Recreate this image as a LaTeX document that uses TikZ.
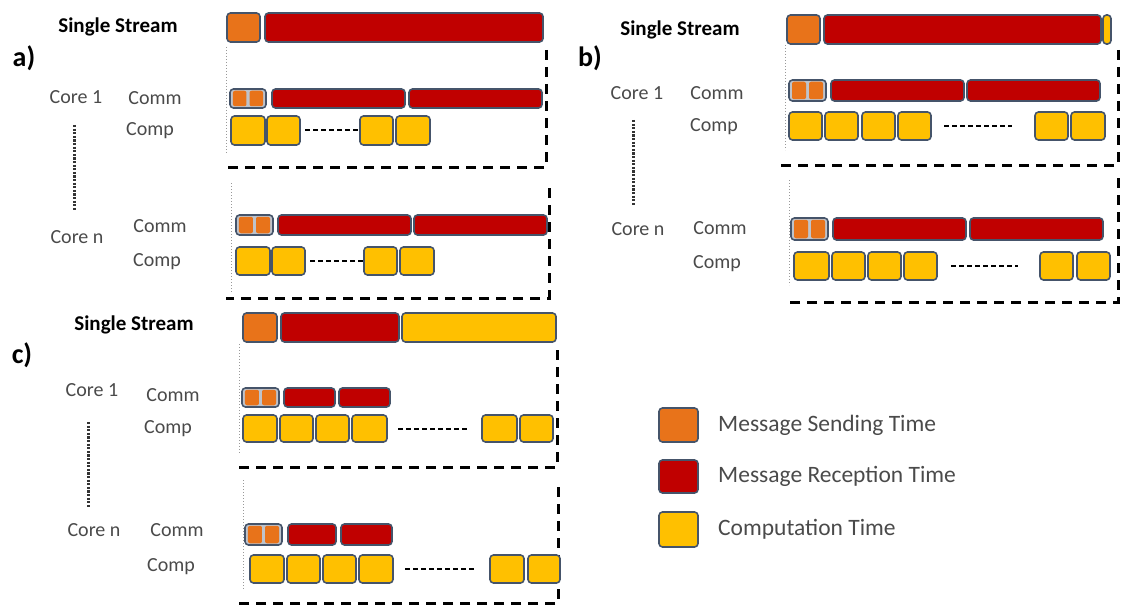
\documentclass[tikz,border=0pt]{standalone}
\usepackage{fontspec}
\setmainfont{Carlito}
\usepackage{tikz}
\usetikzlibrary{positioning}
\definecolor{sendc}{HTML}{E8731A}
\definecolor{recvc}{HTML}{C00000}
\definecolor{compc}{HTML}{FFC000}
\definecolor{rim}{HTML}{45546A}
\definecolor{ink2}{HTML}{4A4A4A}
% x1,y1,x2,y2,colour,name
\newcommand{\tblock}[6]{%
  \node[seg, fill=#5, minimum width={#3-#1}, minimum height={#4-#2}] (#6) at ({(#1+#3)/2},{(#2+#4)/2}) {};}
% x1,y1,x2,y2,name
\newcommand{\sendpair}[5]{%
  \tblock{#1}{#2}{#3}{#4}{rim!35}{#5}
  \node[pip, minimum width={(#3-#1)/2-4.5}, minimum height={#4-#2-3.5}] (#5a) at ({#1+(#3-#1)*0.27},{(#2+#4)/2}) {};
  \node[pip, minimum width={(#3-#1)/2-4.5}, minimum height={#4-#2-3.5}] (#5b) at ({#1+(#3-#1)*0.73},{(#2+#4)/2}) {};}

\begin{document}
\begin{tikzpicture}[x=1pt, y=-1pt,
  font=\fontsize{20}{24}\selectfont,
  seg/.style={draw=rim, line width=1.6pt, rounded corners=3.5pt, inner sep=0pt, outer sep=0pt},
  pip/.style={fill=sendc, rounded corners=2pt, inner sep=0pt, outer sep=0pt},
  lab/.style={text=ink2, inner sep=0pt},
  head/.style={font=\fontsize{21}{24}\selectfont\bfseries, inner sep=0pt},
  tag/.style={font=\fontsize{28}{30}\selectfont\bfseries, inner sep=0pt},
  leg/.style={text=ink2, anchor=west, inner sep=0pt, font=\fontsize{23.5}{26}\selectfont},
  frame/.style={line width=3pt, dash pattern=on 10pt off 7pt},
  gap/.style={line width=2pt, dash pattern=on 5pt off 3pt},
  tick/.style={draw=gray!80, line width=0.8pt, dash pattern=on 1pt off 2pt},
  ellip/.style={draw=ink2!70!black, line width=3pt, dash pattern=on 2.2pt off 1.4pt}]
\useasboundingbox (0,0) rectangle (1121,607);

% ---- a)
\node[head] (aTitle) at (118,27) {Single Stream};
\node[tag] (aTag) at (24,58) {a)};
\tblock{227}{13}{260}{42}{sendc}{aSS1}
\tblock{265}{13}{543}{42}{recvc}{aSS2}
\coordinate (aL1) at (226,47); \coordinate (aL2) at (226,153);
\draw[tick] (aL1) -- (aL2);
\coordinate (aF1) at (546,50); \coordinate (aF2) at (546,167); \coordinate (aF3) at (222,167);
\draw[frame] (aF1) -- (aF2) -- (aF3);
\node[lab] (aCore1) at (76,97) {Core 1};
\node[lab] (aComm1) at (155,98) {Comm};
\node[lab] (aComp1) at (150,131) {Comp};
\sendpair{230}{89}{266}{108}{aS1}
\tblock{272}{89}{405}{108}{recvc}{aR11}
\tblock{409}{89}{542}{108}{recvc}{aR12}
\tblock{231}{116}{265}{145}{compc}{aC11}
\tblock{267}{116}{300}{145}{compc}{aC12}
\tblock{360}{116}{393}{145}{compc}{aC13}
\tblock{396}{116}{430}{145}{compc}{aC14}
\draw[gap, shorten <=5pt] (aC12) -- (aC13);
\node[lab] (aCoreN) at (77,237) {Core n};
\draw[ellip] (aCore1) ++(-2,28) coordinate (aV1) -- ++(0,85) coordinate (aV2);
\coordinate (aL3) at (231,183); \coordinate (aL4) at (231,293);
\draw[tick] (aL3) -- (aL4);
\coordinate (aG1) at (549,188); \coordinate (aG2) at (549,298); \coordinate (aG3) at (226,298);
\draw[frame] (aG1) -- (aG2) -- (aG3);
\node[lab] (aComm2) at (160,226) {Comm};
\node[lab] (aComp2) at (157,262) {Comp};
\sendpair{236}{215}{273}{235}{aS2}
\tblock{278}{215}{411}{235}{recvc}{aR21}
\tblock{414}{215}{547}{235}{recvc}{aR22}
\tblock{236}{247}{270}{275}{compc}{aC21}
\tblock{272}{247}{305}{275}{compc}{aC22}
\tblock{364}{247}{397}{275}{compc}{aC23}
\tblock{400}{247}{434}{275}{compc}{aC24}
\draw[gap, shorten <=5pt] (aC22) -- (aC23);

% ---- b)
\node[head] (bTitle) at (680,30) {Single Stream};
\node[tag] (bTag) at (590,58) {b)};
\tblock{787}{15}{820}{44}{sendc}{bSS1}
\tblock{824}{15}{1101}{44}{recvc}{bSS2}
\tblock{1103}{15}{1111}{44}{compc}{bSS3}
\coordinate (bL1) at (785,45); \coordinate (bL2) at (785,150);
\draw[tick] (bL1) -- (bL2);
\coordinate (bF1) at (1118,50); \coordinate (bF2) at (1118,165); \coordinate (bF3) at (779,165);
\draw[frame] (bF1) -- (bF2) -- (bF3);
\node[lab] (bCore1) at (637,93) {Core 1};
\node[lab] (bComm1) at (717,93) {Comm};
\node[lab] (bComp1) at (714,127) {Comp};
\sendpair{789}{80}{826}{101}{bS1}
\tblock{831}{80}{964}{101}{recvc}{bR11}
\tblock{967}{80}{1100}{101}{recvc}{bR12}
\tblock{789}{112}{822}{140}{compc}{bC11}
\tblock{825}{112}{858}{140}{compc}{bC12}
\tblock{862}{112}{895}{140}{compc}{bC13}
\tblock{898}{112}{931}{140}{compc}{bC14}
\tblock{1035}{112}{1068}{140}{compc}{bC15}
\tblock{1071}{112}{1105}{140}{compc}{bC16}
\draw[gap, shorten <=13pt, shorten >=23pt] (bC14) -- (bC15);
\node[lab] (bCoreN) at (638,229) {Core n};
\draw[ellip] (bCore1) ++(-4,27) coordinate (bV1) -- ++(0,85) coordinate (bV2);
\coordinate (bL3) at (789,180); \coordinate (bL4) at (789,285);
\draw[tick] (bL3) -- (bL4);
\coordinate (bG1) at (1118,178); \coordinate (bG2) at (1118,302); \coordinate (bG3) at (785,302);
\draw[frame] (bG1) -- (bG2) -- (bG3);
\node[lab] (bComm2) at (720,228) {Comm};
\node[lab] (bComp2) at (717,264) {Comp};
\sendpair{791}{218}{828}{240}{bS2}
\tblock{833}{218}{966}{240}{recvc}{bR21}
\tblock{970}{218}{1103}{240}{recvc}{bR22}
\tblock{794}{252}{829}{280}{compc}{bC21}
\tblock{832}{252}{865}{280}{compc}{bC22}
\tblock{868}{252}{901}{280}{compc}{bC23}
\tblock{904}{252}{937}{280}{compc}{bC24}
\tblock{1040}{252}{1073}{280}{compc}{bC25}
\tblock{1077}{252}{1110}{280}{compc}{bC26}
\draw[gap, shorten <=14pt, shorten >=22pt] (bC24) -- (bC25);

% ---- c)
\node[head] (cTitle) at (134,325) {Single Stream};
\node[tag] (cTag) at (22,355) {c)};
\tblock{243}{313}{277}{342}{sendc}{cSS1}
\tblock{281}{313}{399}{342}{recvc}{cSS2}
\tblock{402}{313}{556}{342}{compc}{cSS3}
\coordinate (cL1) at (239,344); \coordinate (cL2) at (239,453);
\draw[tick] (cL1) -- (cL2);
\coordinate (cF1) at (557,350); \coordinate (cF2) at (557,467); \coordinate (cF3) at (234,467);
\draw[frame] (cF1) -- (cF2) -- (cF3);
\node[lab] (cCore1) at (92,390) {Core 1};
\node[lab] (cComm1) at (173,395) {Comm};
\node[lab] (cComp1) at (168,429) {Comp};
\sendpair{242}{388}{279}{407}{cS1}
\tblock{284}{388}{335}{407}{recvc}{cR11}
\tblock{339}{388}{390}{407}{recvc}{cR12}
\tblock{243}{415}{277}{442}{compc}{cC11}
\tblock{280}{415}{313}{442}{compc}{cC12}
\tblock{316}{415}{349}{442}{compc}{cC13}
\tblock{352}{415}{387}{442}{compc}{cC14}
\tblock{482}{415}{517}{442}{compc}{cC15}
\tblock{520}{415}{553}{442}{compc}{cC16}
\draw[gap, shorten <=11pt, shorten >=15pt] (cC14) -- (cC15);
\node[lab] (cCoreN) at (94,530) {Core n};
\draw[ellip] (cCore1) ++(-4,32) coordinate (cV1) -- ++(0,85) coordinate (cV2);
\coordinate (cL3) at (243,480); \coordinate (cL4) at (243,590);
\draw[tick] (cL3) -- (cL4);
\coordinate (cG1) at (558,487); \coordinate (cG2) at (558,603); \coordinate (cG3) at (237,603);
\draw[frame] (cG1) -- (cG2) -- (cG3);
\node[lab] (cComm2) at (177,530) {Comm};
\node[lab] (cComp2) at (171,567) {Comp};
\sendpair{245}{524}{282}{545}{cS2}
\tblock{288}{524}{336}{545}{recvc}{cR21}
\tblock{341}{524}{392}{545}{recvc}{cR22}
\tblock{250}{555}{284}{583}{compc}{cC21}
\tblock{287}{555}{320}{583}{compc}{cC22}
\tblock{323}{555}{356}{583}{compc}{cC23}
\tblock{359}{555}{393}{583}{compc}{cC24}
\tblock{490}{555}{524}{583}{compc}{cC25}
\tblock{528}{555}{560}{583}{compc}{cC26}
\draw[gap, shorten <=12pt, shorten >=15pt] (cC24) -- (cC25);

% ---- legend
\tblock{659}{408}{698}{442}{sendc}{kSend}
\tblock{659}{460}{698}{493}{recvc}{kRecv}
\tblock{659}{512}{698}{547}{compc}{kComp}
\node[leg, right=20pt of kSend] (tSend) {Message Sending Time};
\node[leg, right=20pt of kRecv] (tRecv) {Message Reception Time};
\node[leg, right=20pt of kComp] (tComp) {Computation Time};
\end{tikzpicture}
\end{document}
